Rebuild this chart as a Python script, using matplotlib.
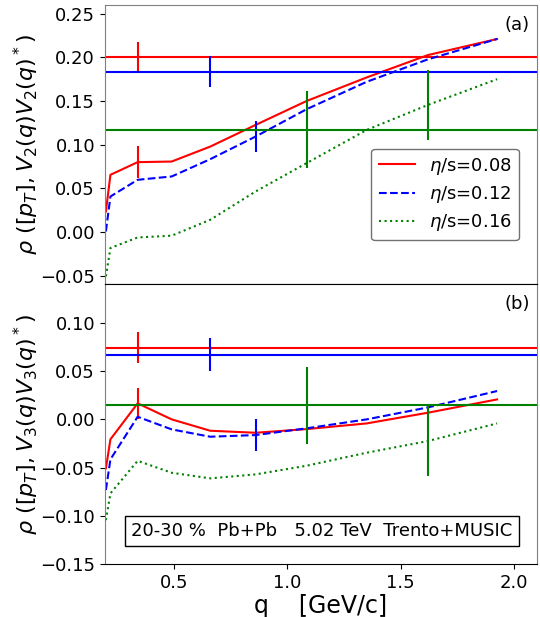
import matplotlib.pyplot as plt

q = [0.2, 0.22, 0.34, 0.49, 0.66, 0.86, 1.085, 1.35, 1.62, 1.925]

# panel (a): rho([pT], V2 V2*)
v2_008 = [0.0235, 0.0655, 0.080, 0.0807, 0.0978, 0.1226, 0.150, 0.177, 0.2026, 0.221]
v2_012 = [0.0007, 0.0407, 0.0598, 0.0636, 0.0834, 0.1093, 0.1406, 0.172, 0.1977, 0.221]
v2_016 = [-0.0507, -0.0183, -0.0062, -0.0042, 0.014, 0.0464, 0.0789, 0.1169, 0.1455, 0.175]
v2_int = [0.200, 0.1836, 0.117]

# panel (b): rho([pT], V3 V3*)
v3_008 = [-0.0508, -0.0207, 0.0166, 0.0, -0.0118, -0.0139, -0.0101, -0.0042, 0.0069, 0.0207]
v3_012 = [-0.0733, -0.0415, 0.0027, -0.0104, -0.018, -0.0163, -0.0093, 0.0, 0.0124, 0.0294]
v3_016 = [-0.1045, -0.0768, -0.043, -0.0554, -0.0612, -0.0571, -0.0481, -0.0346, -0.0225, -0.0042]
v3_int = [0.0743, 0.067, 0.0145]

labels = [r"$\eta$/s=0.08", r"$\eta$/s=0.12", r"$\eta$/s=0.16"]
colors = ["red", "blue", "green"]
styles = ["-", "--", ":"]

# errorbar x positions (on integrated line, on curve) and sizes
err_x_int = [0.34, 0.66, 1.085]
err_x_cur = [2, 5, 8]  # index into q
err_a_int = [0.017, 0.018, 0.044]
err_a_cur = [0.018, 0.018, 0.040]
err_b_int = [0.016, 0.017, 0.040]
err_b_cur = [0.016, 0.017, 0.036]

plt.rcParams['font.size'] = 13
fig, (ax1, ax2) = plt.subplots(2, 1, sharex=True, figsize=(5.4, 6.17), dpi=100)
fig.subplots_adjust(left=0.194, right=0.994, top=0.992, bottom=0.086, hspace=0)

panels = [
    (ax1, [v2_008, v2_012, v2_016], v2_int, err_a_int, err_a_cur),
    (ax2, [v3_008, v3_012, v3_016], v3_int, err_b_int, err_b_cur),
]
for ax, curves, lines, e_int, e_cur in panels:
    for i in range(3):
        ax.plot(q, curves[i], color=colors[i], ls=styles[i], lw=1.5, label=labels[i])
        ax.axhline(lines[i], color=colors[i], lw=1.5)
        ax.errorbar([err_x_int[i]], [lines[i]], yerr=[e_int[i]], color=colors[i], lw=1.5, fmt='none')
        k = err_x_cur[i]
        ax.errorbar([q[k]], [curves[i][k]], yerr=[e_cur[i]], color=colors[i], lw=1.5, fmt='none')
    for s in ['left', 'right', 'top']:
        ax.spines[s].set_color('gray')
ax2.spines['top'].set_color('black')

ax1.set_xlim(0.195, 2.1)
ax1.set_ylim(-0.06, 0.26)
ax2.set_ylim(-0.15, 0.14)
ax2.set_xticks([0.5, 1.0, 1.5, 2.0])
ax1.set_yticks([-0.05, 0.0, 0.05, 0.1, 0.15, 0.2, 0.25])
ax2.set_yticks([-0.15, -0.1, -0.05, 0.0, 0.05, 0.1])
ax1.tick_params(axis='x', bottom=False)

ax1.set_ylabel(r"$\rho\ ([p_T], V_2(q)V_2(q)^*)$", fontsize=16)
ax2.set_ylabel(r"$\rho\ ([p_T], V_3(q)V_3(q)^*)$", fontsize=16)
ax1.yaxis.set_label_coords(-0.148, 0.5)
ax2.yaxis.set_label_coords(-0.148, 0.5)
ax2.set_xlabel("q    [GeV/c]", fontsize=17, labelpad=2)

ax1.text(0.955, 0.93, "(a)", transform=ax1.transAxes, ha='center', va='center', fontsize=13)
ax2.text(0.955, 0.93, "(b)", transform=ax2.transAxes, ha='center', va='center', fontsize=13)

ax1.legend(loc='lower right', bbox_to_anchor=(0.98, 0.125), fontsize=13,
           edgecolor='0.3', fancybox=True, handlelength=2.0, labelspacing=0.4)

ax2.text(0.502, 0.118, "20-30 %  Pb+Pb   5.02 TeV  Trento+MUSIC", transform=ax2.transAxes,
         ha='center', va='center', fontsize=13,
         bbox=dict(boxstyle='square,pad=0.35', facecolor='white', edgecolor='black'))

fig.savefig("out.png")
